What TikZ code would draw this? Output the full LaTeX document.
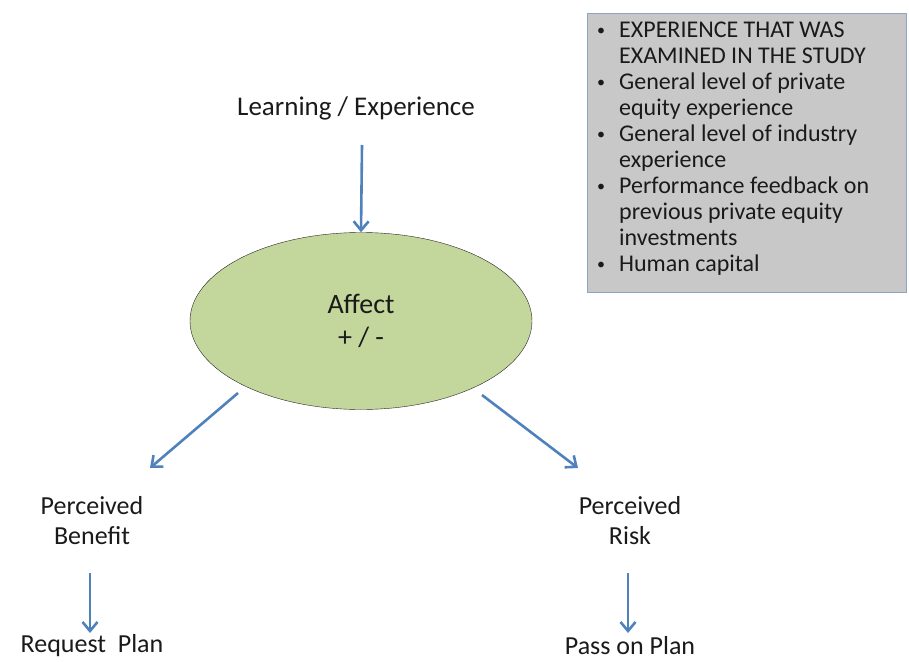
\documentclass[tikz,border=0pt]{standalone}
\usepackage{fontspec}
\setmainfont{Carlito}
\usetikzlibrary{arrows.meta, shapes.geometric, positioning}
\definecolor{flowblue}{HTML}{4F81BD}
\definecolor{affectgreen}{HTML}{C3D69B}
\definecolor{boxgrey}{HTML}{C8C8C8}
\definecolor{boxedge}{HTML}{8EA4C4}
\definecolor{inktext}{HTML}{1A1A1A}
\tikzset{flow/.style = {line width=2.6pt, draw=flowblue, -{Straight Barb[length=9pt,width=15pt,line width=2.6pt]}}}
\tikzset{label text/.style = {text=inktext, align=center, inner sep=0pt, font=\fontsize{26}{30}\selectfont}}
\newcommand{\itembullet}{\raisebox{2pt}{\fontsize{16}{16}\selectfont\textbullet}}

\begin{document}
\begin{tikzpicture}[x=1pt, y=-1pt]
	\useasboundingbox (0,0) rectangle (909,661);

	\node[label text, font=\fontsize{27}{30}\selectfont] (learn) at (356,108) {Learning / Experience};
	\node[ellipse, draw=black!85, thin, fill=affectgreen, minimum width=342pt, minimum height=177pt,
		label text, font=\fontsize{28}{33}\selectfont] (affect) at (361,321) {Affect\\+ / -};

	\node[label text] (benefit) at (92,521) {Perceived\\Benefit};
	\node[label text] (risk) at (630,521) {Perceived\\Risk};
	\node[label text] (request) at (92,646) {Request\ \ Plan};
	\node[label text] (pass) at (630,646) {Pass on Plan};

	\coordinate (learnbot) at (362,145);
	\coordinate (affectsw) at (238,393);
	\coordinate (affectse) at (482,395);
	\coordinate (benefittip) at (150,468);
	\coordinate (risktip) at (578,468);
	\coordinate (benefitbot) at (90,573);
	\coordinate (riskbot) at (628,573);
	\coordinate (requesttop) at (90,633);
	\coordinate (passtop) at (628,633);

	\draw[flow]	(learnbot) -- (affect.north);
	\draw[flow]	(affectsw) -- (benefittip);
	\draw[flow]	(affectse) -- (risktip);
	\draw[flow]	(benefitbot) -- (requesttop);
	\draw[flow]	(riskbot) -- (passtop);

	\node[draw=boxedge, fill=boxgrey, line width=1pt, minimum width=319pt, minimum height=279pt, anchor=north west] (study) at (587,13) {};
	\node[anchor=north west, inner sep=0pt, text=inktext, font=\fontsize{24}{26}\selectfont] (items) at (597,19) {%
		\begin{tabular}{@{}l@{\hspace{14pt}}l@{}}
			\itembullet & EXPERIENCE THAT WAS\\
			 & EXAMINED IN THE STUDY\\
			\itembullet & General level of private\\
			 & equity experience\\
			\itembullet & General level of industry\\
			 & experience\\
			\itembullet & Performance feedback on\\
			 & previous private equity\\
			 & investments\\
			\itembullet & Human capital
		\end{tabular}};
\end{tikzpicture}
\end{document}
